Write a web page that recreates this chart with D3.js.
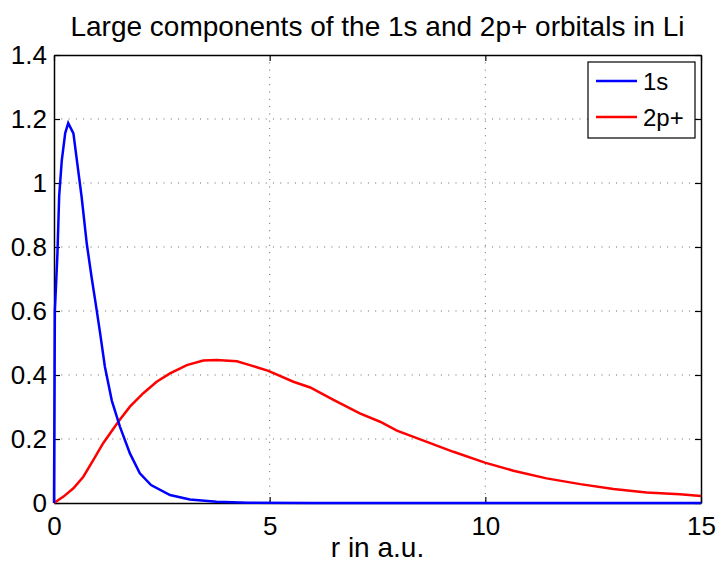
<!DOCTYPE html>
<html>
<head>
<meta charset="utf-8">
<script src="https://cdn.jsdelivr.net/npm/d3@7"></script>
<style>
  body { margin: 0; background: #fff; }
  svg { font-family: "Liberation Sans", Arial, sans-serif; }
</style>
</head>
<body>
<div id="chart"></div>
<script>
// values (r in a.u., amplitude)
var r1s = [0, 0.02, 0.08, 0.12, 0.18, 0.26, 0.33, 0.45, 0.56, 0.64, 0.76, 0.87, 0.97, 1.07, 1.18, 1.34, 1.53, 1.76, 1.99, 2.25, 2.69, 3.15, 3.77, 4.5, 6, 8, 10, 12, 15];
var v1s = [0, 0.60, 0.78, 0.96, 1.07, 1.156, 1.187, 1.155, 1.04, 0.957, 0.81, 0.707, 0.62, 0.53, 0.426, 0.32, 0.238, 0.155, 0.093, 0.056, 0.025, 0.011, 0.004, 0.001, 0, 0, 0, 0, 0];
var r2p = [0, 0.22, 0.45, 0.68, 0.91, 1.14, 1.49, 1.76, 2.07, 2.38, 2.69, 3.08, 3.46, 3.77, 4.24, 4.54, 4.97, 5.55, 5.94, 6.48, 7.09, 7.56, 7.95, 8.49, 9.26, 9.99, 10.65, 11.42, 12.2, 12.97, 13.74, 14.51, 15];
var v2p = [0, 0.02, 0.046, 0.082, 0.134, 0.187, 0.254, 0.301, 0.343, 0.379, 0.405, 0.431, 0.445, 0.447, 0.443, 0.431, 0.413, 0.379, 0.361, 0.322, 0.28, 0.254, 0.226, 0.199, 0.16, 0.126, 0.101, 0.077, 0.059, 0.044, 0.033, 0.027, 0.022];
var xTicks = [0, 5, 10, 15];
var yTicks = [0, 0.2, 0.4, 0.6, 0.8, 1, 1.2, 1.4];
var seriesNames = ["1s", "2p+"];
var seriesColors = ["#0000ff", "#ff0000"];

var W = 719, H = 563;
var pL = 54, pR = 701, pT = 55, pB = 503;

var svg = d3.select("#chart").append("svg")
    .attr("width", W)
    .attr("height", H);

var x = d3.scaleLinear().domain([0, 15]).range([pL, pR]);
var y = d3.scaleLinear().domain([0, 1.4]).range([pB, pT]);

// grid
svg.append("g").selectAll("line")
    .data(xTicks.slice(1, -1))
    .enter().append("line")
    .attr("x1", d => x(d)).attr("x2", d => x(d))
    .attr("y1", pT).attr("y2", pB)
    .attr("stroke", "#666").attr("stroke-width", 1)
    .attr("stroke-dasharray", "1,6.3");
svg.append("g").selectAll("line")
    .data(yTicks.slice(1, -1))
    .enter().append("line")
    .attr("x1", pL).attr("x2", pR)
    .attr("y1", d => y(d)).attr("y2", d => y(d))
    .attr("stroke", "#666").attr("stroke-width", 1)
    .attr("stroke-dasharray", "1,6.3");

// axes (ticks inward, mirrored on top / right)
var fmt = d => String(d);
var xa = svg.append("g").attr("transform", "translate(0," + pB + ")")
    .call(d3.axisBottom(x).tickValues(xTicks).tickFormat(fmt).tickSizeInner(-6).tickSizeOuter(0));
var ya = svg.append("g").attr("transform", "translate(" + pL + ",0)")
    .call(d3.axisLeft(y).tickValues(yTicks).tickFormat(fmt).tickSizeInner(-6).tickSizeOuter(0).tickPadding(7));
svg.append("g").attr("transform", "translate(0," + pT + ")")
    .call(d3.axisTop(x).tickValues(xTicks).tickFormat("").tickSizeInner(-6).tickSizeOuter(0));
svg.append("g").attr("transform", "translate(" + pR + ",0)")
    .call(d3.axisRight(y).tickValues(yTicks).tickFormat("").tickSizeInner(-6).tickSizeOuter(0));

svg.selectAll(".domain").attr("stroke", "#000").attr("stroke-width", 1.5);
svg.selectAll(".tick line").attr("stroke", "#000").attr("stroke-width", 1.2);
svg.selectAll(".tick text")
    .attr("font-family", "Liberation Sans, Arial, sans-serif")
    .attr("font-size", 26).attr("fill", "#000");
xa.selectAll(".tick text").attr("y", 32).attr("dy", 0);

// curves
var line = d3.line().x(d => x(d[0])).y(d => y(d[1]));
var s1 = r1s.map((r, i) => [r, v1s[i]]);
var s2 = r2p.map((r, i) => [r, v2p[i]]);
svg.append("path").datum(s2)
    .attr("d", line).attr("fill", "none")
    .attr("stroke", seriesColors[1]).attr("stroke-width", 2.5);
svg.append("path").datum(s1)
    .attr("d", line).attr("fill", "none")
    .attr("stroke", seriesColors[0]).attr("stroke-width", 2.5);

// title and label
svg.append("text")
    .attr("x", (pL + pR) / 2).attr("y", 36)
    .attr("text-anchor", "middle").attr("font-size", 28)
    .text("Large components of the 1s and 2p+ orbitals in Li");
svg.append("text")
    .attr("x", (pL + pR) / 2).attr("y", 557)
    .attr("text-anchor", "middle").attr("font-size", 28)
    .text("r in a.u.");

// legend
var lg = svg.append("g");
lg.append("rect")
    .attr("x", 588).attr("y", 62).attr("width", 107).attr("height", 76)
    .attr("fill", "#fff").attr("stroke", "#000").attr("stroke-width", 1.2);
seriesNames.forEach(function (name, i) {
    var yy = 81 + i * 36;
    lg.append("line")
        .attr("x1", 596).attr("x2", 637).attr("y1", yy).attr("y2", yy)
        .attr("stroke", seriesColors[i]).attr("stroke-width", 2.5);
    lg.append("text")
        .attr("x", 643).attr("y", yy + 8.5)
        .attr("font-size", 24)
        .text(name);
});
</script>
</body>
</html>
